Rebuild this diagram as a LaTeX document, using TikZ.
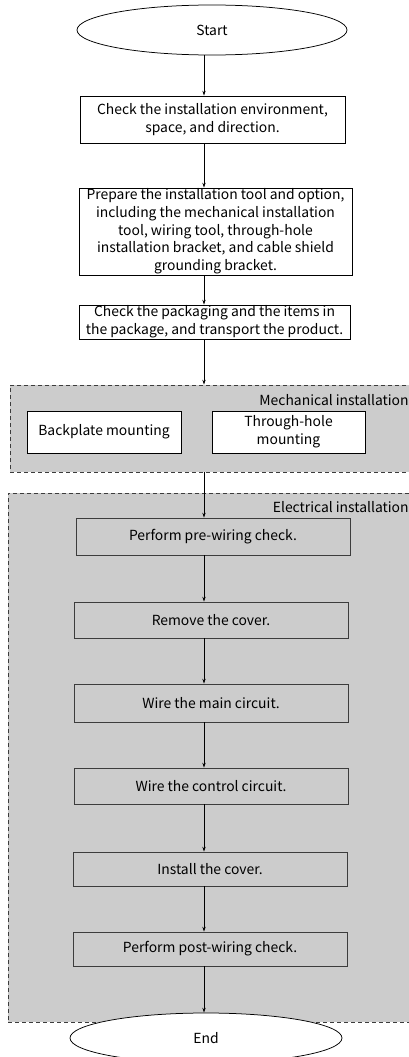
\documentclass[tikz,border=0pt]{standalone}
\usepackage{fontspec}
\setmainfont{Noto Sans CJK SC}
\usetikzlibrary{shapes.geometric,arrows.meta}
\definecolor{areagray}{HTML}{CCCCCC}
\definecolor{framegray}{HTML}{3C3C3C}
\tikzset{
  every node/.style={font=\fontsize{13.9}{17.7}\selectfont},
  term/.style={draw, ellipse, fill=white, minimum width=270pt, minimum height=50pt, inner sep=0pt},
  stepbox/.style={draw, fill=white, align=center, inner sep=0pt},
  elecbox/.style={draw=framegray, fill=areagray, minimum width=274pt, inner sep=0pt},
  area/.style={draw=framegray, fill=areagray, dash pattern=on 4pt off 3pt, inner sep=0pt},
  arealabel/.style={anchor=east, inner sep=0pt},
  flow/.style={-{Stealth[length=5pt,width=3.4pt]}}
}
\begin{document}
\begin{tikzpicture}[x=1pt,y=-1pt,line width=0.75pt]
\useasboundingbox (0,0) rectangle (409,1057);
\coordinate (spine) at (204,0);

% preparation
\node[term] (start) at (212,30) {Start};
\node[stepbox, minimum width=265pt, minimum height=47pt] (env) at (212.5,119.5)
  {Check the installation environment,\\space, and direction.};
\node[stepbox, minimum width=273pt, minimum height=87pt] (tools) at (215.5,231.5)
  {Prepare the installation tool and option,\\including the mechanical installation\\tool, wiring tool, through-hole\\installation bracket, and cable shield\\grounding bracket.};
\node[stepbox, minimum width=271pt, minimum height=34pt] (pack) at (214.5,322)
  {Check the packaging and the items in\\the package, and transport the product.};

% mechanical installation
\node[area, minimum width=410pt, minimum height=87pt] (mech) at (215,428.5) {};
\node[arealabel] (mechlabel) at (409,400) {Mechanical installation};
\node[stepbox, minimum width=154pt, minimum height=42pt] (backplate) at (104,432) {Backplate mounting};
\node[stepbox, minimum width=153pt, minimum height=42pt] (throughhole) at (288.5,432) {Through-hole\\mounting};

% electrical installation
\node[area, minimum width=412pt, minimum height=529pt] (elec) at (214,757.5) {};
\node[arealabel] (eleclabel) at (409,507) {Electrical installation};
\node[elecbox, minimum height=37pt] (pre) at (213,536.5) {Perform pre-wiring check.};
\node[elecbox, minimum height=36pt] (coveroff) at (211,620) {Remove the cover.};
\node[elecbox, minimum height=38pt] (maincirc) at (211,703) {Wire the main circuit.};
\node[elecbox, minimum height=36pt] (ctrlcirc) at (211,786) {Wire the control circuit.};
\node[elecbox, minimum height=34pt] (coveron) at (210,869) {Install the cover.};
\node[elecbox, minimum height=34pt] (post) at (210,949) {Perform post-wiring check.};

\node[term, minimum width=272pt] (end) at (206,1038) {End};

% connectors
\draw[flow] (start.south -| spine) -- (env.north -| spine);
\draw[flow] (env.south -| spine) -- (tools.north -| spine);
\draw[flow] (tools.south -| spine) -- (pack.north -| spine);
\draw[flow] (pack.south -| spine) -- (mech.north -| spine);
\draw[flow] (mech.south -| spine) -- (pre.north -| spine);
\draw[flow] (pre.south -| spine) -- (coveroff.north -| spine);
\draw[flow] (coveroff.south -| spine) -- (maincirc.north -| spine);
\draw[flow] (maincirc.south -| spine) -- (ctrlcirc.north -| spine);
\draw[flow] (ctrlcirc.south -| spine) -- (coveron.north -| spine);
\draw[flow] (coveron.south -| spine) -- (post.north -| spine);
\draw[flow] (post.south -| spine) -- (end.north -| spine);
\end{tikzpicture}
\end{document}
